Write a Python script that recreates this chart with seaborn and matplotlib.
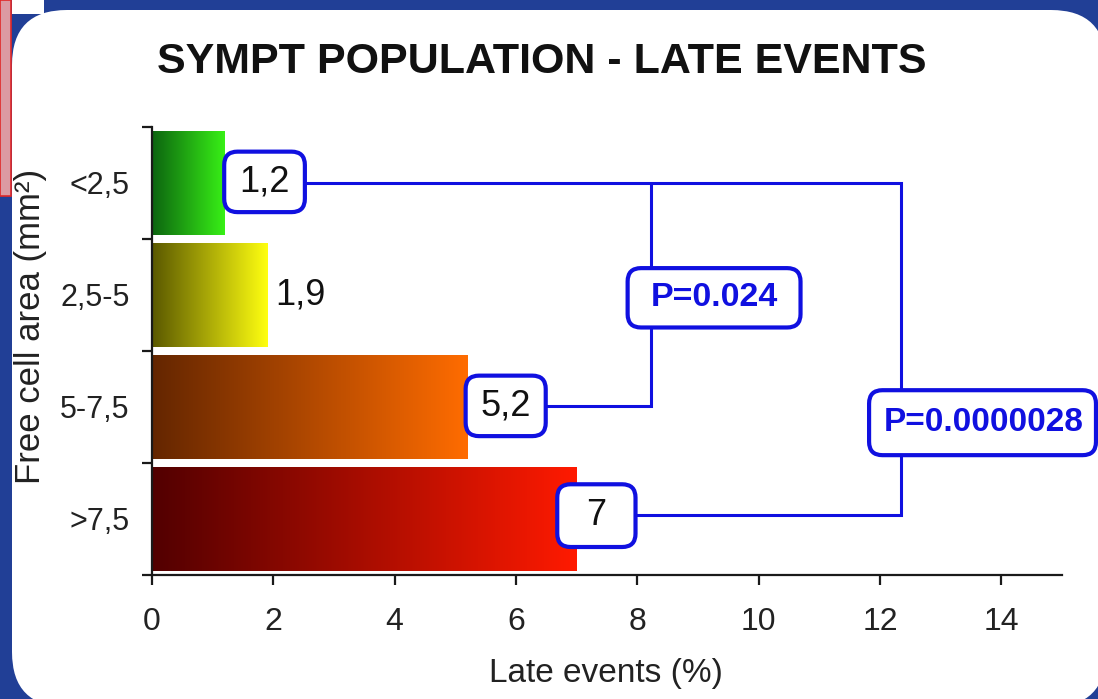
import numpy as np
import pandas as pd
import matplotlib
matplotlib.use('Agg')
import matplotlib.pyplot as plt
import seaborn as sns
from matplotlib.patches import FancyBboxPatch, Rectangle
from matplotlib.colors import LinearSegmentedColormap

# ---------------- data ----------------
categories = ['<2,5', '2,5-5', '5-7,5', '>7,5']
values = [1.2, 1.9, 5.2, 7.0]
value_labels = ['1,2', '1,9', '5,2', '7']
x_ticks = [0, 2, 4, 6, 8, 10, 12, 14]
p_labels = ['P=0.024', 'P=0.0000028']
title = 'SYMPT POPULATION - LATE EVENTS'
x_label = 'Late events (%)'
y_label = 'Free cell area (mm²)'

grad_start = ['#0c6410', '#5a5800', '#642600', '#520000']
grad_end = ['#38f016', '#ffff10', '#ff6c00', '#ff1a00']

BLUE = '#1010e0'

sns.set_theme(style='white')
plt.rcParams['font.family'] = ['Liberation Sans', 'DejaVu Sans']

fig = plt.figure(figsize=(10.98, 6.99), dpi=100)
fig.patch.set_facecolor('#213f96')

# slide background (pixel coordinates)
bg = fig.add_axes([0, 0, 1, 1], zorder=-10)
bg.set_xlim(0, 1098)
bg.set_ylim(699, 0)
bg.axis('off')
bg.add_patch(FancyBboxPatch((12, 10), 1094, 697, boxstyle='round,pad=0,rounding_size=55',
                            fc='white', ec='none'))
bg.add_patch(Rectangle((12, 0), 32, 14, fc='white', ec='none'))
bg.add_patch(Rectangle((0, 0), 11, 196, fc='#dc9aa2', ec='#e02828', lw=1.2))

# ---------------- main axes ----------------
ax = fig.add_axes([152 / 1098, 1 - 575 / 699, 910 / 1098, 448 / 699])
ax.set_facecolor('none')

df = pd.DataFrame({'cat': categories, 'val': values})
sns.barplot(data=df, x='val', y='cat', orient='h', ax=ax, width=0.92,
            color='white', edgecolor='none', saturation=1, zorder=2)

XMAX = 15.0
ax.set_xlim(0, XMAX)
ax.set_ylim(3.5, -0.5)

for i, patch in enumerate(ax.patches):
    x0, y0 = patch.get_x(), patch.get_y()
    w, h = patch.get_width(), patch.get_height()
    cmap = LinearSegmentedColormap.from_list(f'g{i}', [grad_start[i], grad_end[i]])
    grad = np.linspace(0, 1, 256).reshape(1, -1)
    im = ax.imshow(grad, extent=[x0, x0 + w, y0 + h, y0], cmap=cmap,
                   aspect='auto', zorder=2.5, interpolation='bilinear')
    im.set_clip_path(patch)

ax.set_xlim(0, XMAX)
ax.set_ylim(3.5, -0.5)

# axes styling
for s in ['top', 'right']:
    ax.spines[s].set_visible(False)
for s in ['left', 'bottom']:
    ax.spines[s].set_color('#1a1a1a')
    ax.spines[s].set_linewidth(1.6)
ax.set_xticks(x_ticks)
ax.set_xticklabels([str(t) for t in x_ticks])
ax.tick_params(axis='x', which='major', direction='out', length=7, width=1.6,
               color='#1a1a1a', labelsize=23, pad=16, labelcolor='#222222', bottom=True)
ax.set_yticks(range(len(categories)))
ax.set_yticklabels(categories)
ax.tick_params(axis='y', which='major', length=0, labelsize=22, pad=16, labelcolor='#222222', left=True)
ax.set_yticks([-0.5, 0.5, 1.5, 2.5, 3.5], minor=True)
ax.tick_params(axis='y', which='minor', direction='out', length=7, width=1.6, color='#1a1a1a', left=True)

ax.set_xlabel(x_label, fontsize=24, color='#222222', va='center')
ax.set_ylabel(y_label, fontsize=25, color='#222222', va='center')
ax.xaxis.set_label_coords(0.499, -0.219)
ax.yaxis.set_label_coords(-0.134, 0.555)

fig.text(542 / 1098, 1 - 62 / 699, title, fontsize=31, fontweight='bold',
         ha='center', va='center', color='#111111')

# ---------------- annotations ----------------
fig.canvas.draw()
px_x = ax.bbox.width / XMAX
px_y = ax.bbox.height / 4.0
aspect = px_x / px_y


def box(x0, x1, y0, y1, zorder=5):
    p = FancyBboxPatch((x0, y0), x1 - x0, y1 - y0,
                       boxstyle='round,pad=0,rounding_size=0.22',
                       mutation_aspect=aspect, fc='white', ec=BLUE, lw=3.0,
                       zorder=zorder, clip_on=False)
    ax.add_patch(p)


# bracket lines
ax.plot([1.9, 12.34, 12.34, 7.3], [0, 0, 2.96, 2.96], color=BLUE, lw=2.2,
        zorder=4, clip_on=False, solid_joinstyle='miter')
ax.plot([8.23, 8.23, 5.8], [0, 1.99, 1.99], color=BLUE, lw=2.2,
        zorder=4, clip_on=False, solid_joinstyle='miter')

# value boxes
box(1.19, 2.52, -0.28, 0.26)
ax.text((1.19 + 2.52) / 2, -0.01, value_labels[0], ha='center', va='center',
        fontsize=26, color='#111111', zorder=6)
ax.text(values[1] + 0.13, 1.0, value_labels[1], ha='left', va='center',
        fontsize=26, color='#111111', zorder=6)
box(5.17, 6.49, 1.72, 2.26)
ax.text((5.17 + 6.49) / 2, 1.99, value_labels[2], ha='center', va='center',
        fontsize=26, color='#111111', zorder=6)
box(6.68, 7.97, 2.69, 3.25)
ax.text((6.68 + 7.97) / 2, 2.97, value_labels[3], ha='center', va='center',
        fontsize=26, color='#111111', zorder=6)

# p-value boxes
box(7.84, 10.69, 0.76, 1.29)
ax.text((7.84 + 10.69) / 2, 1.025, p_labels[0], ha='center', va='center',
        fontsize=24.5, fontweight='bold', color=BLUE, zorder=6)
box(11.82, 15.56, 1.85, 2.43)
ax.text((11.82 + 15.56) / 2 + 0.02, 2.14, p_labels[1], ha='center', va='center',
        fontsize=24, fontweight='bold', color=BLUE, zorder=6, clip_on=False)

fig.savefig('out.png', dpi=100, facecolor=fig.get_facecolor())
